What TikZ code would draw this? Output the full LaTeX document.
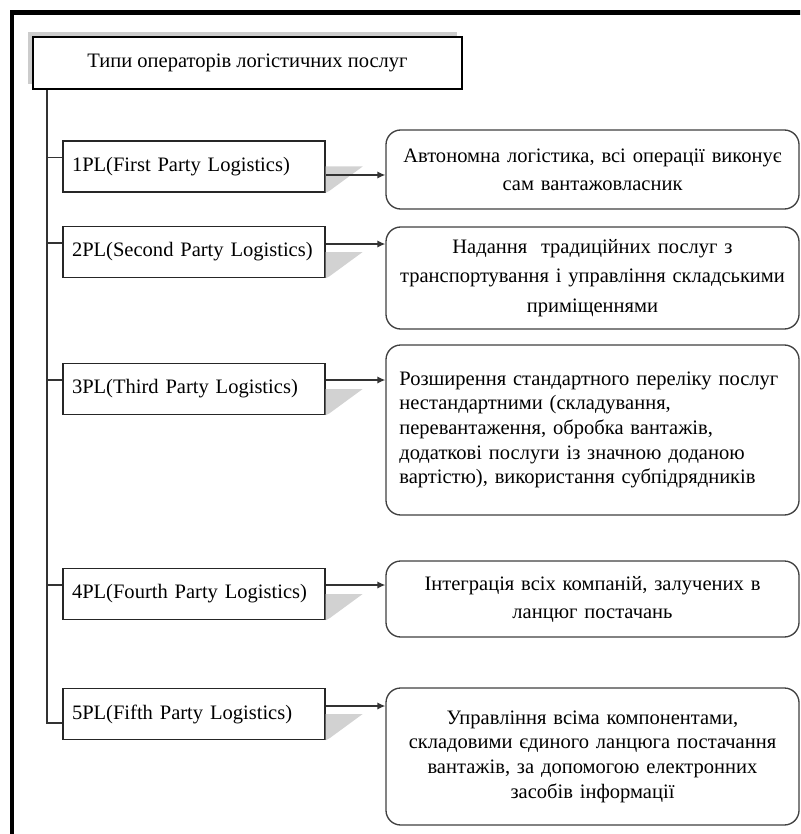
\documentclass[tikz,border=0pt]{standalone}
\usepackage{fontspec}
\setmainfont{Liberation Serif}
\usetikzlibrary{arrows.meta,shadows,calc}

\begin{document}
\begin{tikzpicture}[x=0.75pt,y=-0.75pt]
  \tikzstyle{every node} = [font=\fontsize{15.4}{18.5}\selectfont];
  \tikzstyle{head} = [draw=black, line width=1.5pt, fill=white, minimum width=321.75pt,
    minimum height=39pt, general shadow={fill=gray!40, shadow xshift=-3.5pt, shadow yshift=3.5pt}];
  \tikzstyle{plbox} = [draw=black!85, line width=1pt, fill=white, minimum width=196.5pt,
    minimum height=38.25pt, text width=183pt, inner xsep=6.75pt, align=left];
  \tikzstyle{descbox} = [draw=black!75, line width=1pt, rounded corners=11pt, fill=white,
    minimum width=309.75pt, text width=292pt, inner xsep=8pt, align=center];
  \tikzstyle{link} = [line width=1pt, draw=black!80];
  \useasboundingbox (0,0) rectangle (800,834);
  \clip (0,0) rectangle (800,834);
  % frame
  \draw[line width=3.6pt] (12,12.5) rectangle (900,900);
  % title
  \node[head] (head) at (247.5,63) {Типи операторів логістичних послуг};
  % types
  \foreach \n/\y/\name in {1/166.5/First,2/252/Second,3/389/Third,4/594/Fourth,5/714/Fifth}{
    \node[plbox] (p\n) at (194,\y) {\n PL(\name\ Party Logistics)};
    \fill[gray!35] (p\n.east) -- ++(37,0) -- ($(p\n.south east)+(4,-2)$) -- (p\n.south east) -- cycle;
  }
  % descriptions
  \node[descbox, minimum height=59.25pt, font=\fontsize{15.4}{21}\selectfont] (d1) at (592.5,169.5)
    {Автономна логістика, всі операції виконує\\ сам вантажовласник};
  \node[descbox, minimum height=76.5pt, font=\fontsize{15.4}{22}\selectfont] (d2) at (592.5,278)
    {Надання\ \ традиційних послуг з\\ транспортування і управління складськими\\ приміщеннями};
  \node[descbox, minimum height=127.5pt, align=left, inner xsep=10pt, text width=289.75pt] (d3) at (592.5,430)
    {Розширення стандартного переліку послуг\\ нестандартними (складування,\\ перевантаження, обробка вантажів,\\ додаткові послуги із значною доданою\\ вартістю), використання субпідрядників};
  \node[descbox, minimum height=57pt, font=\fontsize{15.4}{21}\selectfont] (d4) at (592.5,599)
    {Інтеграція всіх компаній, залучених в\\ ланцюг постачань};
  \node[descbox, minimum height=102.75pt] (d5) at (592.5,756.5)
    {Управління всіма компонентами,\\ складовими єдиного ланцюга постачання\\ вантажів, за допомогою електронних\\ засобів інформації};
  % trunk
  \coordinate (trunk) at ($(head.south west)+(15,0)$);
  \draw[link] (trunk) |- ($(p5.west)+(0,9)$);
  \foreach \n in {1,2,3,4}{
    \draw[link] ($(p\n.west)+(0,-9)$) -- ++(-15,0);
  }
  % arrows
  \foreach \n/\dy in {1/8.5,2/-8,3/-9,4/-9,5/-8}{
    \coordinate (a\n) at ($(p\n.east)+(0,\dy)$);
    \draw[link, -{Latex[length=6pt,width=5.5pt]}] (a\n) -- (a\n -| d\n.west);
  }
\end{tikzpicture}
\end{document}
